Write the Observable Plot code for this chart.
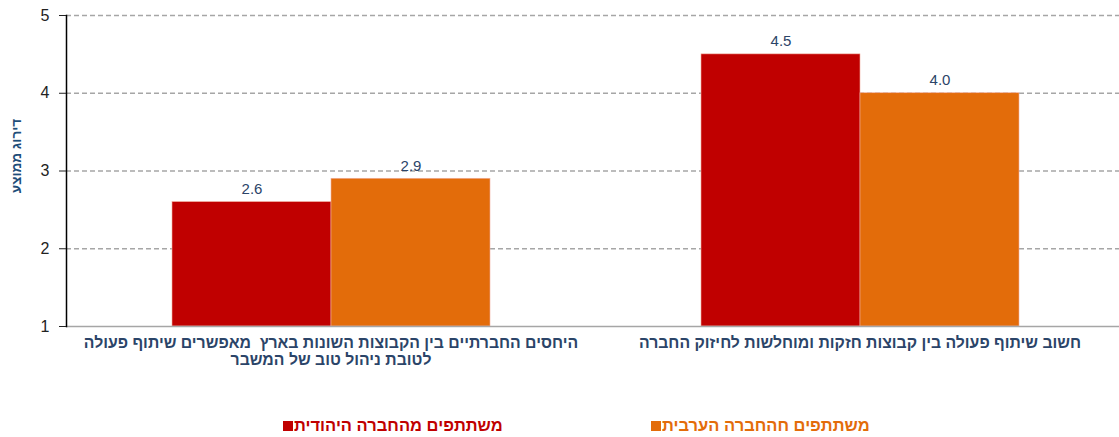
<!DOCTYPE html>
<html>
<head>
<meta charset="utf-8">
<script src="https://cdn.jsdelivr.net/npm/d3@7"></script>
<script src="https://cdn.jsdelivr.net/npm/@observablehq/plot@0.6"></script>
<style>
  html, body { margin: 0; padding: 0; background: #fff; }
  body { width: 1119px; height: 437px; overflow: hidden; font-family: "Liberation Sans", Arial, sans-serif; }
  #legend { height: 25px; font-size: 16.5px; font-weight: bold; }
  .item { display: flex; direction: ltr; align-items: center; position: absolute; top: 416px; }
  .sw { width: 10px; height: 10px; margin-right: 1px; }
</style>
</head>
<body>
<div id="chart"></div>
<div id="legend"></div>
<script>
const categories = [
  "היחסים החברתיים בין הקבוצות השונות בארץ  מאפשרים שיתוף פעולה\nלטובת ניהול טוב של המשבר",
  "חשוב שיתוף פעולה בין קבוצות חזקות ומוחלשות לחיזוק החברה"
];
const seriesNames = ["משתתפים מהחברה היהודית", "משתתפים חהחברה הערבית"];
const jewishValues = [2.6, 4.5];
const arabValues = [2.9, 4.0];
const yTicks = [1, 2, 3, 4, 5];
const gridTicks = [2, 3, 4, 5];
const colors = ["#C00000", "#E36C0A"];
const yLabel = "דירוג ממוצע";

const data = [];
categories.forEach((c, i) => {
  data.push({category: c, series: seriesNames[0], value: jewishValues[i]});
  data.push({category: c, series: seriesNames[1], value: arabValues[i]});
});

const navy = "#2B4468";

const chart = Plot.plot({
  width: 1119,
  height: 412,
  marginLeft: 65,
  marginRight: -5,
  marginTop: 15,
  marginBottom: 86,
  style: {fontFamily: "Liberation Sans, Arial, sans-serif", background: "#fff", overflow: "visible"},
  fx: {domain: categories, padding: 0, label: null},
  x: {domain: seriesNames, paddingInner: 0, paddingOuter: 0.655, align: 0.5, axis: null},
  y: {domain: [1, 5], label: null},
  color: {domain: seriesNames, range: colors},
  marks: [
    Plot.ruleY(gridTicks, {stroke: "#A6A6A6", strokeWidth: 1.3, strokeDasharray: "5,3"}),
    Plot.barY(data, {fx: "category", x: "series", y1: () => 1, y2: "value", fill: "series", stroke: "#F2B0A0", strokeWidth: 0.6, inset: 0}),
    Plot.text(data, {fx: "category", x: "series", y: "value", text: d => d.value.toFixed(1), dy: -13, fill: navy, fontSize: 15}),
    Plot.ruleY([1], {stroke: "#A6A6A6", strokeWidth: 1.5}),
    Plot.frame({anchor: "left", facetAnchor: "left", stroke: "#000", strokeWidth: 1.5}),
    Plot.axisY(yTicks, {anchor: "left", tickSize: 7, tickPadding: 10, fontSize: 16, color: "#222", label: null, tickFormat: d => String(d), facetAnchor: "left"}),
    Plot.text([yLabel], {frameAnchor: "left", textAnchor: "middle", dx: -50, dy: -15, rotate: -90, fill: "#1F4E79", fontWeight: "bold", fontSize: 13.5, facetAnchor: "left"}),
    Plot.axisFx({anchor: "bottom", tickSize: 0, tickPadding: 9, fontSize: 15.8, fontWeight: "bold", fill: navy, lineHeight: 1.1, label: null})
  ]
});
document.getElementById("chart").appendChild(chart);

const legend = document.getElementById("legend");
const lefts = [283, 651];
seriesNames.forEach((s, i) => {
  const it = document.createElement("div");
  it.className = "item";
  it.style.left = lefts[i] + "px";
  it.style.color = colors[i];
  const sw = document.createElement("span");
  sw.className = "sw";
  sw.style.background = colors[i];
  const t = document.createElement("span");
  t.textContent = s;
  it.appendChild(sw);
  it.appendChild(t);
  legend.appendChild(it);
});
</script>
</body>
</html>
